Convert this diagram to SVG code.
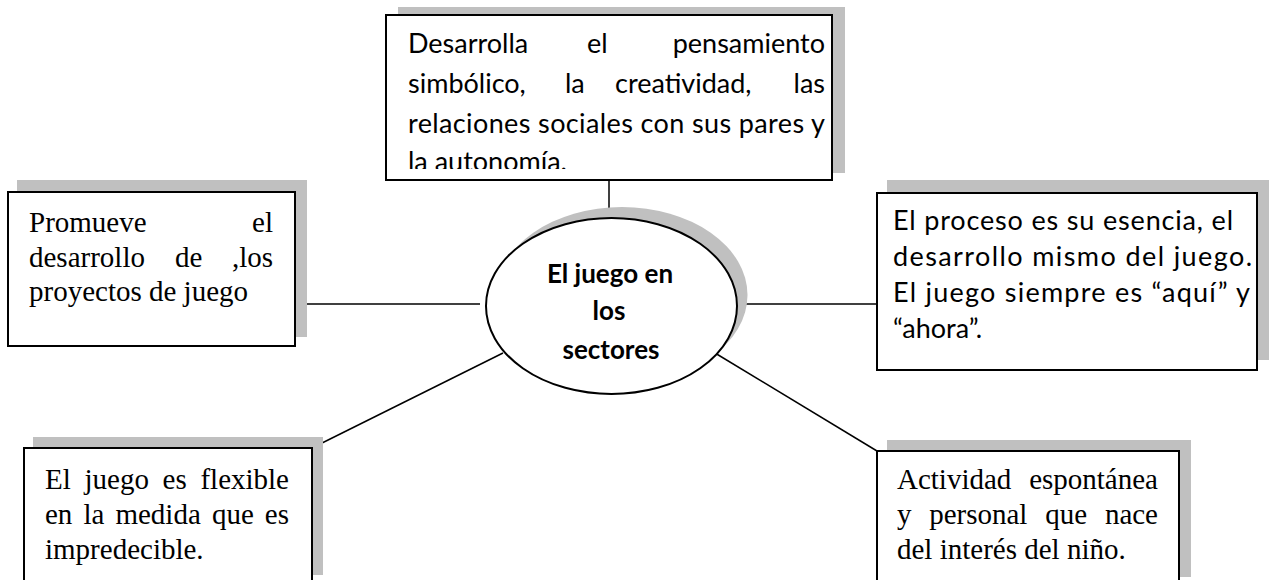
<svg xmlns="http://www.w3.org/2000/svg" width="1269" height="580" viewBox="0 0 1269 580">
<style>
.shadow{fill:#c0c0c0;stroke:none}
.box{fill:#fff;stroke:#000;stroke-width:2}
.conn{stroke:#000;stroke-width:1.5;fill:none}
.cal{font-family:Lato,"Open Sans",sans-serif;font-size:27px;fill:#000}
.tnr{font-family:"Liberation Serif","Times New Roman",serif;font-size:29px;fill:#000}
.bold{font-family:Lato,"Open Sans",sans-serif;font-size:26px;font-weight:bold;fill:#000;text-anchor:middle}
.end{text-anchor:end}
</style>
<defs>
<clipPath id="clipTop"><rect x="386" y="15" width="446" height="154"/></clipPath>
<clipPath id="clipEll"><rect x="486" y="218" width="252" height="141"/></clipPath>
</defs>
<g id="connectors">
<line class="conn" x1="609" y1="180" x2="609" y2="218"/>
<line class="conn" x1="295" y1="304" x2="480" y2="304"/>
<line class="conn" x1="737" y1="304" x2="877" y2="304"/>
<line class="conn" x1="503" y1="353" x2="312" y2="448"/>
<line class="conn" x1="715" y1="353" x2="877" y2="451"/>
</g>
<g id="node-top">
<rect class="shadow" x="398" y="7" width="447" height="166"/>
<rect class="box" x="386" y="15" width="446" height="165"/>
<g clip-path="url(#clipTop)">
<text class="cal" x="408" y="53">Desarrolla</text>
<text class="cal" x="587" y="53">el</text>
<text class="cal end" x="825" y="53">pensamiento</text>
<text class="cal" x="408" y="93">simbólico,</text>
<text class="cal" x="565" y="93">la</text>
<text class="cal" x="615" y="93">creatividad,</text>
<text class="cal end" x="825" y="93">las</text>
<text class="cal" x="408" y="133" textLength="417" lengthAdjust="spacing">relaciones sociales con sus pares y</text>
<text class="cal" x="408" y="171">la autonomía.</text>
</g>
</g>
<g id="node-center">
<ellipse class="shadow" cx="622" cy="295" rx="125.5" ry="88"/>
<ellipse class="box" cx="611.5" cy="306" rx="125.5" ry="88"/>
<g clip-path="url(#clipEll)">
<text class="bold" x="610" y="283">El juego en</text>
<text class="bold" x="609" y="320">los</text>
<text class="bold" x="611" y="359">sectores</text>
</g>
</g>
<g id="node-left">
<rect class="shadow" x="17" y="180" width="290" height="157"/>
<rect class="box" x="8" y="192" width="287" height="154"/>
<text class="tnr" x="29" y="232">Promueve</text>
<text class="tnr end" x="273" y="232">el</text>
<text class="tnr" x="29" y="267">desarrollo</text>
<text class="tnr" x="175" y="267">de</text>
<text class="tnr end" x="273" y="267">,los</text>
<text class="tnr" x="29" y="301">proyectos de juego</text>
</g>
<g id="node-right">
<rect class="shadow" x="887" y="180" width="382" height="180"/>
<rect class="box" x="877" y="193" width="380" height="177"/>
<text class="cal" x="893" y="230" textLength="340" lengthAdjust="spacing">El proceso es su esencia, el</text>
<text class="cal" x="893" y="266" textLength="359" lengthAdjust="spacing">desarrollo mismo del juego.</text>
<text class="cal" x="893" y="302" textLength="357" lengthAdjust="spacing">El juego siempre es “aquí” y</text>
<text class="cal" x="893" y="338">“ahora”.</text>
</g>
<g id="node-bottom-left">
<rect class="shadow" x="33" y="437" width="290" height="138"/>
<rect class="box" x="24" y="448" width="288" height="140"/>
<text class="tnr" x="45" y="489">El</text>
<text class="tnr" x="84.5" y="489">juego</text>
<text class="tnr" x="162.6" y="489">es</text>
<text class="tnr end" x="289" y="489">flexible</text>
<text class="tnr" x="45" y="524">en</text>
<text class="tnr" x="83.5" y="524">la</text>
<text class="tnr" x="115.4" y="524">medida</text>
<text class="tnr" x="211.9" y="524">que</text>
<text class="tnr end" x="289" y="524">es</text>
<text class="tnr" x="45" y="559">impredecible.</text>
</g>
<g id="node-bottom-right">
<rect class="shadow" x="887" y="440" width="304" height="137"/>
<rect class="box" x="877" y="451" width="302" height="140"/>
<text class="tnr" x="897" y="489">Actividad</text>
<text class="tnr end" x="1158" y="489">espontánea</text>
<text class="tnr" x="897" y="524">y</text>
<text class="tnr" x="929.2" y="524">personal</text>
<text class="tnr" x="1045.2" y="524">que</text>
<text class="tnr end" x="1158" y="524">nace</text>
<text class="tnr" x="897" y="559">del interés del niño.</text>
</g>
</svg>
